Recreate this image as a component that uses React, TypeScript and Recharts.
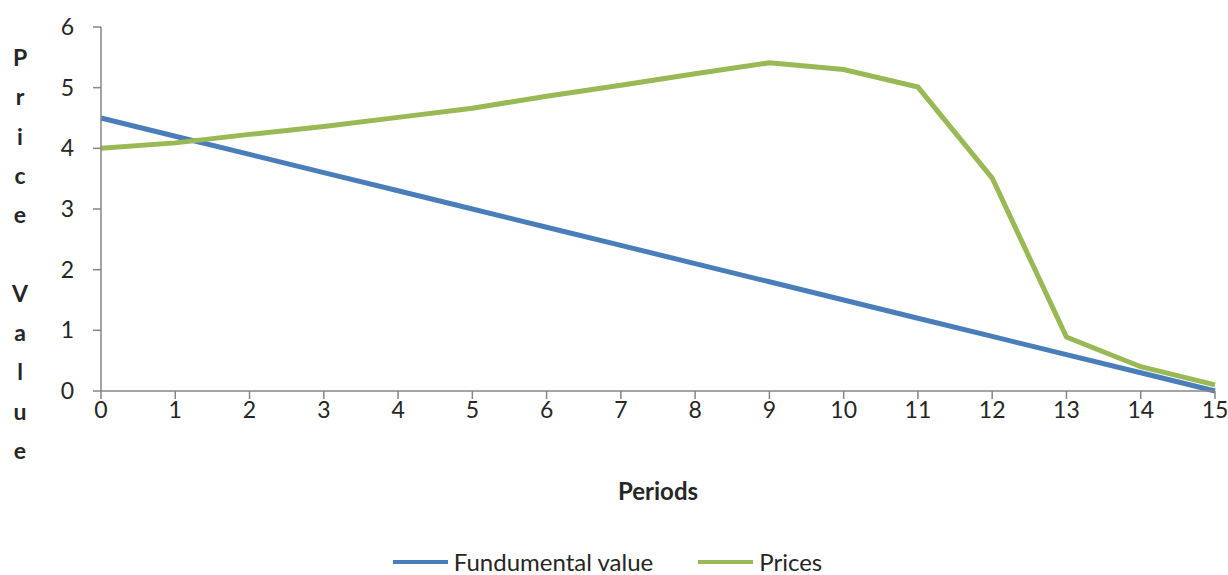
import { LineChart, Line, XAxis, YAxis, Legend, Label } from "recharts";

// periods 0..15
const periods = [0, 1, 2, 3, 4, 5, 6, 7, 8, 9, 10, 11, 12, 13, 14, 15];
const fundamentalValue = [4.5, 4.2, 3.9, 3.6, 3.3, 3.0, 2.7, 2.4, 2.1, 1.8, 1.5, 1.2, 0.9, 0.6, 0.3, 0];
const prices = [4.0, 4.09, 4.23, 4.36, 4.51, 4.66, 4.86, 5.04, 5.23, 5.41, 5.3, 5.01, 3.51, 0.89, 0.4, 0.1];
const yTicks = [0, 1, 2, 3, 4, 5, 6];

const data = periods.map((p, i) => ({
  period: p,
  fundamental: fundamentalValue[i],
  price: prices[i],
}));

const FONT = "Lato, 'Open Sans', sans-serif";
const AXIS = "#868686";
const TEXT = "#262626";
const BLUE = "#4a7ebb";
const GREEN = "#98b954";

const legendItems = [
  { name: "Fundumental value", color: BLUE },
  { name: "Prices", color: GREEN },
];

function LegendContent() {
  return (
    <div
      style={{
        display: "flex",
        justifyContent: "center",
        alignItems: "center",
        height: 26,
        lineHeight: "26px",
        fontFamily: FONT,
        fontSize: 24,
        color: TEXT,
      }}
    >
      {legendItems.map((it, i) => (
        <div key={it.name} style={{ display: "flex", alignItems: "center", marginLeft: i ? 45 : 0 }}>
          <span style={{ display: "inline-block", width: 55, height: 4, background: it.color, marginRight: 6 }} />
          <span>{it.name}</span>
        </div>
      ))}
    </div>
  );
}

function VerticalTitle() {
  const letters = ["P", "r", "i", "c", "e", "", "V", "a", "l", "u", "e"];
  return (
    <text fontFamily={FONT} fontWeight="bold" fontSize={23} fill={TEXT} textAnchor="middle">
      {letters.map((ch, i) => (
        <tspan key={i} x={20} y={57 + i * 39.3} dominantBaseline="central">
          {ch || "\u00a0"}
        </tspan>
      ))}
    </text>
  );
}

export default function App() {
  return (
    <div style={{ position: "absolute", left: 0, top: 0, background: "#fff" }}>
      <LineChart width={1228} height={575} data={data} margin={{ top: 27, right: 13, left: 0, bottom: 0 }}>
        <XAxis
          dataKey="period"
          type="number"
          domain={[0, 15]}
          ticks={periods}
          interval={0}
          height={158}
          stroke={AXIS}
          strokeWidth={1.5}
          tickSize={8}
          tickMargin={3}
          tick={{ fill: TEXT, fontSize: 23, fontFamily: FONT }}
        >
          <Label
            content={({ viewBox }: any) => (
              <text
                x={viewBox.x + viewBox.width / 2}
                y={viewBox.y + 99}
                textAnchor="middle"
                dominantBaseline="central"
                fontFamily={FONT}
                fontWeight="bold"
                fontSize={24}
                fill={TEXT}
              >
                Periods
              </text>
            )}
          />
        </XAxis>
        <YAxis
          domain={[0, 6]}
          ticks={yTicks}
          width={101}
          stroke={AXIS}
          strokeWidth={1.5}
          tickSize={8}
          tickMargin={19}
          tick={{ fill: TEXT, fontSize: 23, fontFamily: FONT }}
        >
          <Label content={() => <VerticalTitle />} />
        </YAxis>
        <Legend verticalAlign="bottom" height={26} content={() => <LegendContent />} />
        <Line dataKey="fundamental" stroke={BLUE} strokeWidth={5} dot={false} isAnimationActive={false} />
        <Line dataKey="price" stroke={GREEN} strokeWidth={5} dot={false} isAnimationActive={false} />
      </LineChart>
    </div>
  );
}
